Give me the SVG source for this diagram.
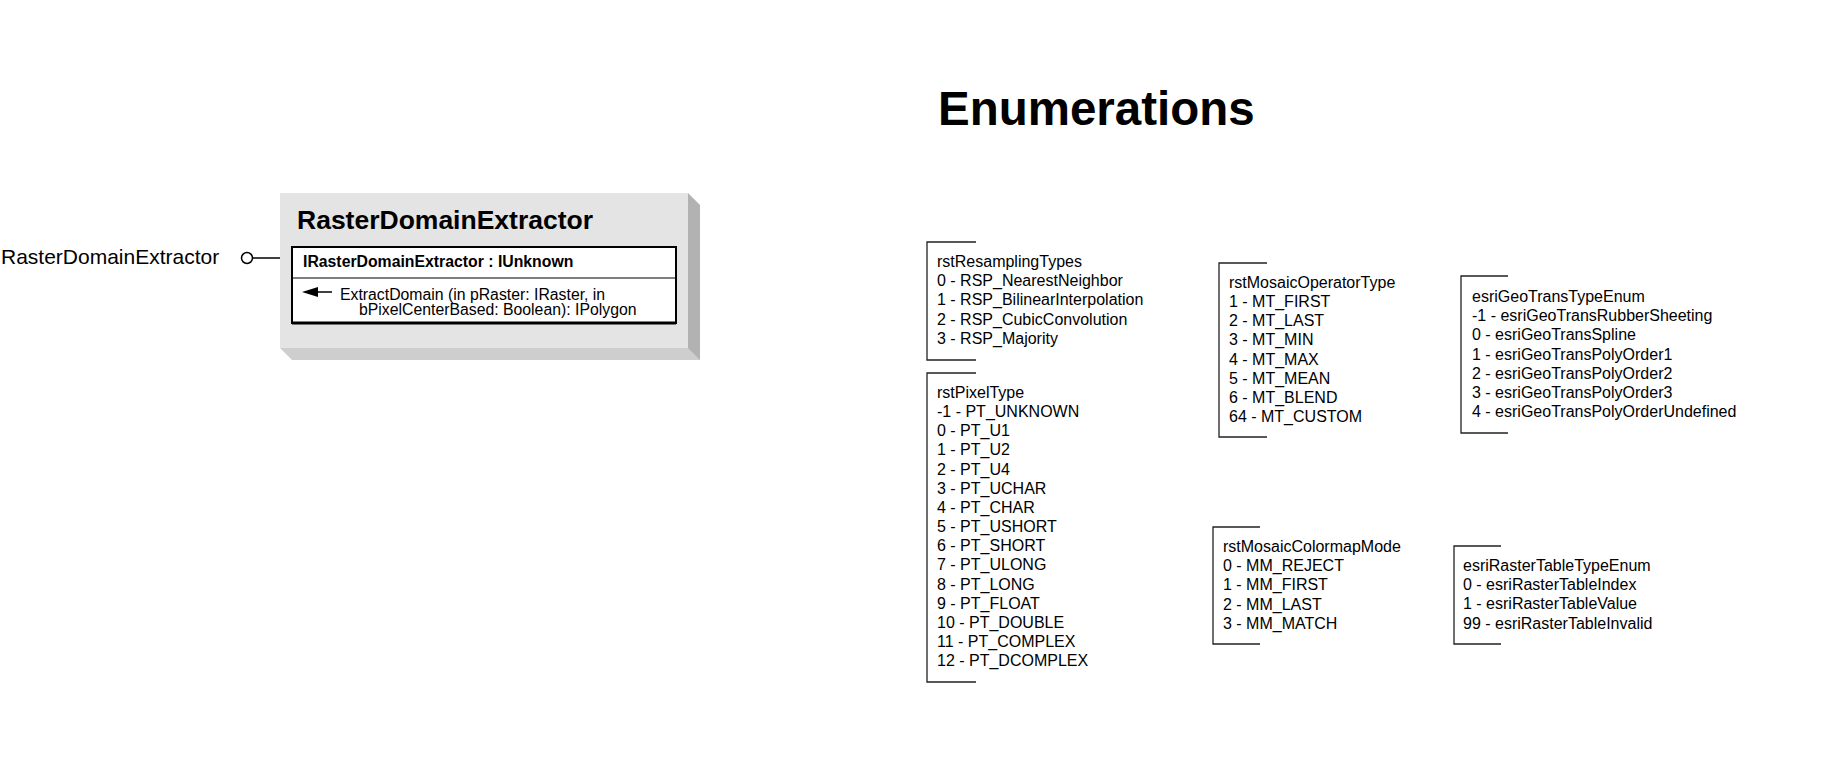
<svg xmlns="http://www.w3.org/2000/svg" width="1843" height="770" viewBox="0 0 1843 770">
<style>
text{font-family:"Liberation Sans",Arial,sans-serif;fill:#000}
.enum{font-size:16px}
.br{fill:none;stroke:#222;stroke-width:1.3}
.face{fill:#e4e4e4}
.shr{fill:#b2b2b2}
.shb{fill:#cecece}
.box{fill:#fff;stroke:#000;stroke-width:2}
.conn{stroke:#000;stroke-width:1.5;fill:none}
</style>
<rect width="1843" height="770" fill="#fff"/>
<g id="connectors">
<line class="conn" x1="253" y1="258" x2="292" y2="258"/>
<circle class="conn" cx="247" cy="258" r="5.5" fill="#fff"/>
</g>
<g id="lollipop-label">
<text x="1" y="264" font-size="21">RasterDomainExtractor</text>
</g>
<g id="RasterDomainExtractor">
<polygon class="shr" points="688,193 700,205 700,360 688,360"/>
<polygon class="shb" points="280,348 688,348 700,360 292,360"/>
<rect class="face" x="280" y="193" width="408" height="155"/>
<text x="297" y="229" font-size="26.5" font-weight="bold">RasterDomainExtractor</text>
<rect class="box" x="292" y="247" width="384" height="76"/>
<line x1="292" y1="278" x2="676" y2="278" stroke="#000" stroke-width="1.2"/>
<line x1="292" y1="323" x2="676" y2="323" stroke="#000" stroke-width="3"/>
<text x="303" y="267" font-size="15.8" font-weight="bold">IRasterDomainExtractor : IUnknown</text>
<polygon points="302,292 318,287 318,297" fill="#000"/>
<line x1="316" y1="292" x2="332" y2="292" stroke="#000" stroke-width="1.5"/>
<text x="340" y="300" font-size="15.8">ExtractDomain (in pRaster: IRaster, in</text>
<text x="359" y="315" font-size="15.8">bPixelCenterBased: Boolean): IPolygon</text>
</g>
<g id="title">
<text x="938" y="125" font-size="47.5" font-weight="bold">Enumerations</text>
</g>
<g id="rstResamplingTypes">
<polyline class="br" points="976,242 927,242 927,360 976,360"/>
<text class="enum" x="937" y="267"><tspan x="937">rstResamplingTypes</tspan><tspan x="937" dy="19.2">0 - RSP_NearestNeighbor</tspan><tspan x="937" dy="19.2">1 - RSP_BilinearInterpolation</tspan><tspan x="937" dy="19.2">2 - RSP_CubicConvolution</tspan><tspan x="937" dy="19.2">3 - RSP_Majority</tspan></text>
</g>
<g id="rstPixelType">
<polyline class="br" points="976,373 927,373 927,682 976,682"/>
<text class="enum" x="937" y="398"><tspan x="937">rstPixelType</tspan><tspan x="937" dy="19.15">-1 - PT_UNKNOWN</tspan><tspan x="937" dy="19.15">0 - PT_U1</tspan><tspan x="937" dy="19.15">1 - PT_U2</tspan><tspan x="937" dy="19.15">2 - PT_U4</tspan><tspan x="937" dy="19.15">3 - PT_UCHAR</tspan><tspan x="937" dy="19.15">4 - PT_CHAR</tspan><tspan x="937" dy="19.15">5 - PT_USHORT</tspan><tspan x="937" dy="19.15">6 - PT_SHORT</tspan><tspan x="937" dy="19.15">7 - PT_ULONG</tspan><tspan x="937" dy="19.15">8 - PT_LONG</tspan><tspan x="937" dy="19.15">9 - PT_FLOAT</tspan><tspan x="937" dy="19.15">10 - PT_DOUBLE</tspan><tspan x="937" dy="19.15">11 - PT_COMPLEX</tspan><tspan x="937" dy="19.15">12 - PT_DCOMPLEX</tspan></text>
</g>
<g id="rstMosaicOperatorType">
<polyline class="br" points="1267,263 1219,263 1219,437 1267,437"/>
<text class="enum" x="1229" y="288"><tspan x="1229">rstMosaicOperatorType</tspan><tspan x="1229" dy="19.15">1 - MT_FIRST</tspan><tspan x="1229" dy="19.15">2 - MT_LAST</tspan><tspan x="1229" dy="19.15">3 - MT_MIN</tspan><tspan x="1229" dy="19.15">4 - MT_MAX</tspan><tspan x="1229" dy="19.15">5 - MT_MEAN</tspan><tspan x="1229" dy="19.15">6 - MT_BLEND</tspan><tspan x="1229" dy="19.15">64 - MT_CUSTOM</tspan></text>
</g>
<g id="esriGeoTransTypeEnum">
<polyline class="br" points="1508,276 1461,276 1461,433 1508,433"/>
<text class="enum" x="1472" y="302"><tspan x="1472">esriGeoTransTypeEnum</tspan><tspan x="1472" dy="19.2">-1 - esriGeoTransRubberSheeting</tspan><tspan x="1472" dy="19.2">0 - esriGeoTransSpline</tspan><tspan x="1472" dy="19.2">1 - esriGeoTransPolyOrder1</tspan><tspan x="1472" dy="19.2">2 - esriGeoTransPolyOrder2</tspan><tspan x="1472" dy="19.2">3 - esriGeoTransPolyOrder3</tspan><tspan x="1472" dy="19.2">4 - esriGeoTransPolyOrderUndefined</tspan></text>
</g>
<g id="rstMosaicColormapMode">
<polyline class="br" points="1260,527 1213,527 1213,644 1260,644"/>
<text class="enum" x="1223" y="552"><tspan x="1223">rstMosaicColormapMode</tspan><tspan x="1223" dy="19.2">0 - MM_REJECT</tspan><tspan x="1223" dy="19.2">1 - MM_FIRST</tspan><tspan x="1223" dy="19.2">2 - MM_LAST</tspan><tspan x="1223" dy="19.2">3 - MM_MATCH</tspan></text>
</g>
<g id="esriRasterTableTypeEnum">
<polyline class="br" points="1501,546 1454,546 1454,644 1501,644"/>
<text class="enum" x="1463" y="571"><tspan x="1463">esriRasterTableTypeEnum</tspan><tspan x="1463" dy="19.2">0 - esriRasterTableIndex</tspan><tspan x="1463" dy="19.2">1 - esriRasterTableValue</tspan><tspan x="1463" dy="19.2">99 - esriRasterTableInvalid</tspan></text>
</g>
</svg>
